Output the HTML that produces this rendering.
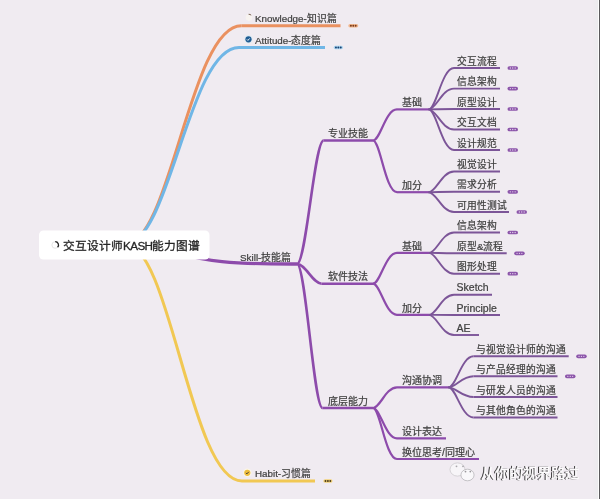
<!DOCTYPE html>
<html lang="zh-CN"><head><meta charset="utf-8">
<style>
html,body{margin:0;padding:0;background:#f0ebf1;width:600px;height:499px;overflow:hidden}
svg{position:absolute;left:0;top:0;filter:blur(0.35px)}
text{font-family:"Liberation Sans",sans-serif;fill:#404040;stroke:#404040;stroke-width:0.22px}
</style></head><body>
<svg width="600" height="499" viewBox="0 0 600 499">
<path d="M175 252C205 261.5 230 264.2 297 264" stroke="#8d4bab" stroke-width="3.3" fill="none"/>
<path d="M297 264C306.04 264 314.56 140.5 323.6 140.5" stroke="#8d4bab" stroke-width="2.6" fill="none"/>
<path d="M323.6 140.5H373" stroke="#8d4bab" stroke-width="2.6" fill="none" />
<path d="M297 264C305.33 264 313.17 283.7 321.5 283.7" stroke="#8d4bab" stroke-width="2.6" fill="none"/>
<path d="M321.5 283.7H373" stroke="#8d4bab" stroke-width="2.6" fill="none" />
<path d="M297 264C305.67 264 313.83 408 322.5 408" stroke="#8d4bab" stroke-width="2.6" fill="none"/>
<path d="M322.5 408H373" stroke="#8d4bab" stroke-width="2.6" fill="none" />
<path d="M373 140.5C380.20 140.5 385.48 109.4 397 109.4" stroke="#8d4bab" stroke-width="2.2" fill="none"/>
<path d="M397 109.4H429" stroke="#8d4bab" stroke-width="2.2" fill="none" />
<path d="M373 140.5C380.20 140.5 385.48 192.20000000000002 397 192.20000000000002" stroke="#8d4bab" stroke-width="2.2" fill="none"/>
<path d="M397 192.20000000000002H429" stroke="#8d4bab" stroke-width="2.2" fill="none" />
<path d="M373 283.7C380.20 283.7 385.48 252.9 397 252.9" stroke="#8d4bab" stroke-width="2.2" fill="none"/>
<path d="M397 252.9H429.5" stroke="#8d4bab" stroke-width="2.2" fill="none" />
<path d="M373 283.7C380.20 283.7 385.48 314.9 397 314.9" stroke="#8d4bab" stroke-width="2.2" fill="none"/>
<path d="M397 314.9H429.5" stroke="#8d4bab" stroke-width="2.2" fill="none" />
<path d="M373 408C380.20 408 385.48 387.4 397 387.4" stroke="#8d4bab" stroke-width="2.2" fill="none"/>
<path d="M397 387.4H449" stroke="#8d4bab" stroke-width="2.2" fill="none" />
<path d="M373 408C380.20 408 385.48 438.4 397 438.4" stroke="#8d4bab" stroke-width="2.2" fill="none"/>
<path d="M397 438.4H446" stroke="#8d4bab" stroke-width="2.2" fill="none" />
<path d="M373 408C380.20 408 385.48 459.0 397 459.0" stroke="#8d4bab" stroke-width="2.2" fill="none"/>
<path d="M397 459.0H479" stroke="#8d4bab" stroke-width="2.2" fill="none" />
<path d="M428.7 109.4C436.29 109.4 441.86 68 454 68" stroke="#7c5598" stroke-width="1.9" fill="none"/>
<path d="M454 68H500" stroke="#7c5598" stroke-width="1.9" fill="none" />
<path d="M428.7 109.4C436.29 109.4 441.86 88.6 454 88.6" stroke="#7c5598" stroke-width="1.9" fill="none"/>
<path d="M454 88.6H500" stroke="#7c5598" stroke-width="1.9" fill="none" />
<path d="M428.7 109.4C436.29 109.4 441.86 109 454 109" stroke="#7c5598" stroke-width="1.9" fill="none"/>
<path d="M454 109H500" stroke="#7c5598" stroke-width="1.9" fill="none" />
<path d="M428.7 109.4C436.29 109.4 441.86 129.5 454 129.5" stroke="#7c5598" stroke-width="1.9" fill="none"/>
<path d="M454 129.5H500" stroke="#7c5598" stroke-width="1.9" fill="none" />
<path d="M428.7 109.4C436.29 109.4 441.86 150 454 150" stroke="#7c5598" stroke-width="1.9" fill="none"/>
<path d="M454 150H500" stroke="#7c5598" stroke-width="1.9" fill="none" />
<path d="M428.7 192.2C436.29 192.2 441.86 171.5 454 171.5" stroke="#7c5598" stroke-width="1.9" fill="none"/>
<path d="M454 171.5H500" stroke="#7c5598" stroke-width="1.9" fill="none" />
<path d="M428.7 192.2C436.29 192.2 441.86 191.8 454 191.8" stroke="#7c5598" stroke-width="1.9" fill="none"/>
<path d="M454 191.8H500" stroke="#7c5598" stroke-width="1.9" fill="none" />
<path d="M428.7 192.2C436.29 192.2 441.86 212 454 212" stroke="#7c5598" stroke-width="1.9" fill="none"/>
<path d="M454 212H509" stroke="#7c5598" stroke-width="1.9" fill="none" />
<path d="M429 252.9C436.50 252.9 442.00 232.5 454 232.5" stroke="#7c5598" stroke-width="1.9" fill="none"/>
<path d="M454 232.5H500" stroke="#7c5598" stroke-width="1.9" fill="none" />
<path d="M429 252.9C436.50 252.9 442.00 253.3 454 253.3" stroke="#7c5598" stroke-width="1.9" fill="none"/>
<path d="M454 253.3H506.7" stroke="#7c5598" stroke-width="1.9" fill="none" />
<path d="M429 252.9C436.50 252.9 442.00 273.7 454 273.7" stroke="#7c5598" stroke-width="1.9" fill="none"/>
<path d="M454 273.7H500" stroke="#7c5598" stroke-width="1.9" fill="none" />
<path d="M429 314.9C436.50 314.9 442.00 294.7 454 294.7" stroke="#7c5598" stroke-width="1.9" fill="none"/>
<path d="M454 294.7H492" stroke="#7c5598" stroke-width="1.9" fill="none" />
<path d="M429 314.9C436.50 314.9 442.00 315 454 315" stroke="#7c5598" stroke-width="1.9" fill="none"/>
<path d="M454 315H500" stroke="#7c5598" stroke-width="1.9" fill="none" />
<path d="M429 314.9C436.50 314.9 442.00 335 454 335" stroke="#7c5598" stroke-width="1.9" fill="none"/>
<path d="M454 335H479" stroke="#7c5598" stroke-width="1.9" fill="none" />
<path d="M448.5 387.4C456.00 387.4 461.50 356.3 473.5 356.3" stroke="#7c5598" stroke-width="1.9" fill="none"/>
<path d="M473.5 356.3H568.7" stroke="#7c5598" stroke-width="1.9" fill="none" />
<path d="M448.5 387.4C456.00 387.4 461.50 376.3 473.5 376.3" stroke="#7c5598" stroke-width="1.9" fill="none"/>
<path d="M473.5 376.3H557.5" stroke="#7c5598" stroke-width="1.9" fill="none" />
<path d="M448.5 387.4C456.00 387.4 461.50 397 473.5 397" stroke="#7c5598" stroke-width="1.9" fill="none"/>
<path d="M473.5 397H557.5" stroke="#7c5598" stroke-width="1.9" fill="none" />
<path d="M448.5 387.4C456.00 387.4 461.50 417.5 473.5 417.5" stroke="#7c5598" stroke-width="1.9" fill="none"/>
<path d="M473.5 417.5H557.5" stroke="#7c5598" stroke-width="1.9" fill="none" />
<path d="M125.3 244.2C170.54 244.2 190.26 25.7 241.3 25.7" stroke="#ea9160" stroke-width="3" fill="none"/>
<path d="M241.3 25.7H340.5" stroke="#ea9160" stroke-width="3" fill="none" />
<path d="M125.3 244.2C169.64 244.2 188.97 47.5 239 47.5" stroke="#70b6e6" stroke-width="3" fill="none"/>
<path d="M239 47.5H325" stroke="#70b6e6" stroke-width="3" fill="none" />
<path d="M125.3 244.2C170.81 244.2 190.65 481 242 481" stroke="#f1c853" stroke-width="3" fill="none"/>
<path d="M242 481H315" stroke="#f1c853" stroke-width="3" fill="none" />
<rect x="507.5" y="66.15" width="10.5" height="3.7" rx="1.85" fill="#8c55aa"/><circle cx="510.35" cy="68" r="0.65" fill="#e6d6ee"/><circle cx="512.75" cy="68" r="0.65" fill="#e6d6ee"/><circle cx="515.15" cy="68" r="0.65" fill="#e6d6ee"/>
<rect x="507.5" y="86.75" width="10.5" height="3.7" rx="1.85" fill="#8c55aa"/><circle cx="510.35" cy="88.6" r="0.65" fill="#e6d6ee"/><circle cx="512.75" cy="88.6" r="0.65" fill="#e6d6ee"/><circle cx="515.15" cy="88.6" r="0.65" fill="#e6d6ee"/>
<rect x="507.5" y="107.15" width="10.5" height="3.7" rx="1.85" fill="#8c55aa"/><circle cx="510.35" cy="109" r="0.65" fill="#e6d6ee"/><circle cx="512.75" cy="109" r="0.65" fill="#e6d6ee"/><circle cx="515.15" cy="109" r="0.65" fill="#e6d6ee"/>
<rect x="507.5" y="127.65" width="10.5" height="3.7" rx="1.85" fill="#8c55aa"/><circle cx="510.35" cy="129.5" r="0.65" fill="#e6d6ee"/><circle cx="512.75" cy="129.5" r="0.65" fill="#e6d6ee"/><circle cx="515.15" cy="129.5" r="0.65" fill="#e6d6ee"/>
<rect x="507.5" y="148.15" width="10.5" height="3.7" rx="1.85" fill="#8c55aa"/><circle cx="510.35" cy="150" r="0.65" fill="#e6d6ee"/><circle cx="512.75" cy="150" r="0.65" fill="#e6d6ee"/><circle cx="515.15" cy="150" r="0.65" fill="#e6d6ee"/>
<rect x="507.5" y="189.95000000000002" width="10.5" height="3.7" rx="1.85" fill="#8c55aa"/><circle cx="510.35" cy="191.8" r="0.65" fill="#e6d6ee"/><circle cx="512.75" cy="191.8" r="0.65" fill="#e6d6ee"/><circle cx="515.15" cy="191.8" r="0.65" fill="#e6d6ee"/>
<rect x="516.5" y="210.15" width="10.5" height="3.7" rx="1.85" fill="#8c55aa"/><circle cx="519.35" cy="212" r="0.65" fill="#e6d6ee"/><circle cx="521.75" cy="212" r="0.65" fill="#e6d6ee"/><circle cx="524.15" cy="212" r="0.65" fill="#e6d6ee"/>
<rect x="507.5" y="230.65" width="10.5" height="3.7" rx="1.85" fill="#8c55aa"/><circle cx="510.35" cy="232.5" r="0.65" fill="#e6d6ee"/><circle cx="512.75" cy="232.5" r="0.65" fill="#e6d6ee"/><circle cx="515.15" cy="232.5" r="0.65" fill="#e6d6ee"/>
<rect x="514.2" y="251.45000000000002" width="10.5" height="3.7" rx="1.85" fill="#8c55aa"/><circle cx="517.0500000000001" cy="253.3" r="0.65" fill="#e6d6ee"/><circle cx="519.45" cy="253.3" r="0.65" fill="#e6d6ee"/><circle cx="521.85" cy="253.3" r="0.65" fill="#e6d6ee"/>
<rect x="507.5" y="271.84999999999997" width="10.5" height="3.7" rx="1.85" fill="#8c55aa"/><circle cx="510.35" cy="273.7" r="0.65" fill="#e6d6ee"/><circle cx="512.75" cy="273.7" r="0.65" fill="#e6d6ee"/><circle cx="515.15" cy="273.7" r="0.65" fill="#e6d6ee"/>
<rect x="576.2" y="354.45" width="10.5" height="3.7" rx="1.85" fill="#8c55aa"/><circle cx="579.0500000000001" cy="356.3" r="0.65" fill="#e6d6ee"/><circle cx="581.45" cy="356.3" r="0.65" fill="#e6d6ee"/><circle cx="583.85" cy="356.3" r="0.65" fill="#e6d6ee"/>
<rect x="565.0" y="374.45" width="10.5" height="3.7" rx="1.85" fill="#8c55aa"/><circle cx="567.85" cy="376.3" r="0.65" fill="#e6d6ee"/><circle cx="570.25" cy="376.3" r="0.65" fill="#e6d6ee"/><circle cx="572.65" cy="376.3" r="0.65" fill="#e6d6ee"/>
<rect x="348.3" y="23.9" width="10.0" height="3.6" rx="1.8" fill="#f0b68e"/><circle cx="350.90000000000003" cy="25.7" r="0.95" fill="#7a3a18"/><circle cx="353.3" cy="25.7" r="0.95" fill="#7a3a18"/><circle cx="355.7" cy="25.7" r="0.95" fill="#7a3a18"/>
<circle cx="249" cy="17.6" r="3.3" fill="#f7f3f0"/><path d="M248.6 14.3A3.3 3.3 0 0 1 251.2 15.2" stroke="#6a5040" stroke-width="0.9" fill="none"/>
<rect x="333.7" y="45.7" width="9.300000000000011" height="3.6" rx="1.8" fill="#a9d3ef"/><circle cx="335.95000000000005" cy="47.5" r="0.95" fill="#173f70"/><circle cx="338.35" cy="47.5" r="0.95" fill="#173f70"/><circle cx="340.75" cy="47.5" r="0.95" fill="#173f70"/>
<circle cx="248.5" cy="39.3" r="4.2" fill="#dfeaf3"/><circle cx="248.5" cy="39.3" r="3.1" fill="#1f5c93"/><path d="M246.9 39.4l1 1 1.8-2" stroke="#fff" stroke-width="0.9" fill="none"/>
<rect x="323.3" y="479.2" width="9.199999999999989" height="3.6" rx="1.8" fill="#f3d277"/><circle cx="325.5" cy="481" r="0.95" fill="#4a3a18"/><circle cx="327.9" cy="481" r="0.95" fill="#4a3a18"/><circle cx="330.29999999999995" cy="481" r="0.95" fill="#4a3a18"/>
<circle cx="247.3" cy="472.8" r="4.3" fill="#fbf6e6"/><circle cx="247.3" cy="472.8" r="3.1" fill="#eebd3c"/><path d="M245.9 472.9l1 1 1.8-2" stroke="#333" stroke-width="0.9" fill="none"/>
<g>
<text x="240" y="261" font-size="9.9">Skill-技能篇</text>
<text x="328.0" y="137.0" font-size="10">专业技能</text>
<text x="328.0" y="280.2" font-size="10">软件技法</text>
<text x="328.0" y="404.5" font-size="10">底层能力</text>
<text x="402" y="106.2" font-size="10">基础</text>
<text x="402" y="189.00000000000003" font-size="10">加分</text>
<text x="402" y="249.70000000000002" font-size="10">基础</text>
<text x="402" y="311.7" font-size="10">加分</text>
<text x="402" y="384.2" font-size="10">沟通协调</text>
<text x="402" y="435.2" font-size="10">设计表达</text>
<text x="402" y="455.8" font-size="10">换位思考/同理心</text>
<text x="456.9" y="64.6" font-size="9.75">交互流程</text>
<text x="456.9" y="85.19999999999999" font-size="9.75">信息架构</text>
<text x="456.9" y="105.6" font-size="9.75">原型设计</text>
<text x="456.9" y="126.1" font-size="9.75">交互文档</text>
<text x="456.9" y="146.6" font-size="9.75">设计规范</text>
<text x="456.9" y="168.1" font-size="9.75">视觉设计</text>
<text x="456.9" y="188.4" font-size="9.75">需求分析</text>
<text x="456.9" y="208.6" font-size="9.75">可用性测试</text>
<text x="456.9" y="229.1" font-size="9.75">信息架构</text>
<text x="456.9" y="249.9" font-size="9.75">原型&amp;流程</text>
<text x="456.9" y="270.3" font-size="9.75">图形处理</text>
<text x="456.6" y="291.3" font-size="10.5">Sketch</text>
<text x="456.6" y="311.6" font-size="10.5">Principle</text>
<text x="456.6" y="331.6" font-size="10.5">AE</text>
<text x="476.4" y="352.90000000000003" font-size="9.75">与视觉设计师的沟通</text>
<text x="476.4" y="372.90000000000003" font-size="9.75">与产品经理的沟通</text>
<text x="476.4" y="393.6" font-size="9.75">与研发人员的沟通</text>
<text x="476.4" y="414.1" font-size="9.75">与其他角色的沟通</text>
<text x="255" y="21.8" font-size="9.8">Knowledge-知识篇</text>
<text x="255" y="43.6" font-size="9.8">Attitude-态度篇</text>
<text x="255" y="477.1" font-size="9.8">Habit-习惯篇</text>
</g>
<rect x="39" y="230.5" width="170.5" height="29" rx="4.5" fill="#fff"/>
<circle cx="55.2" cy="245" r="3.3" fill="none" stroke="#e6e6e6" stroke-width="1"/>
<path d="M55.2 241.7A3.3 3.3 0 0 1 57.6 247.3" stroke="#222" stroke-width="1.3" fill="none"/>
<text x="63" y="249.9" font-size="11.7" style="fill:#262626;stroke:#262626;stroke-width:0.3px">交互设计师<tspan letter-spacing="-0.6">KASH</tspan>能力图谱</text>
<g transform="translate(446,458)">
<ellipse cx="11.5" cy="11.5" rx="7.5" ry="6.6" fill="#f7f5f8" stroke="#c8c6ca" stroke-width="0.7"/>
<ellipse cx="21.5" cy="17" rx="6.6" ry="5.8" fill="#f9f8fa" stroke="#b8b6ba" stroke-width="0.8"/>
<circle cx="10.5" cy="8.3" r="0.9" fill="#a8a6aa"/><circle cx="17" cy="8.3" r="0.9" fill="#a8a6aa"/>
<circle cx="19.5" cy="13.6" r="0.9" fill="#9a989c"/><circle cx="24.3" cy="13.6" r="0.9" fill="#9a989c"/>
</g>
<text x="481" y="478" font-size="14.2" style="fill:#fdfcfd;stroke:#fdfcfd;stroke-width:0.35px;filter:drop-shadow(-0.7px 0.5px 0.5px rgba(0,0,0,0.8))">从你的视界路过</text>
</svg>
<div style="position:absolute;left:592px;top:0;width:6px;height:499px;background:linear-gradient(90deg,rgba(235,235,236,0),#ebebed)"></div>
<div style="position:absolute;left:598px;top:0;width:1px;height:499px;background:#fdfdfd"></div>
<div style="position:absolute;left:599px;top:0;width:1px;height:499px;background:#5a5a5c"></div>
</body></html>
